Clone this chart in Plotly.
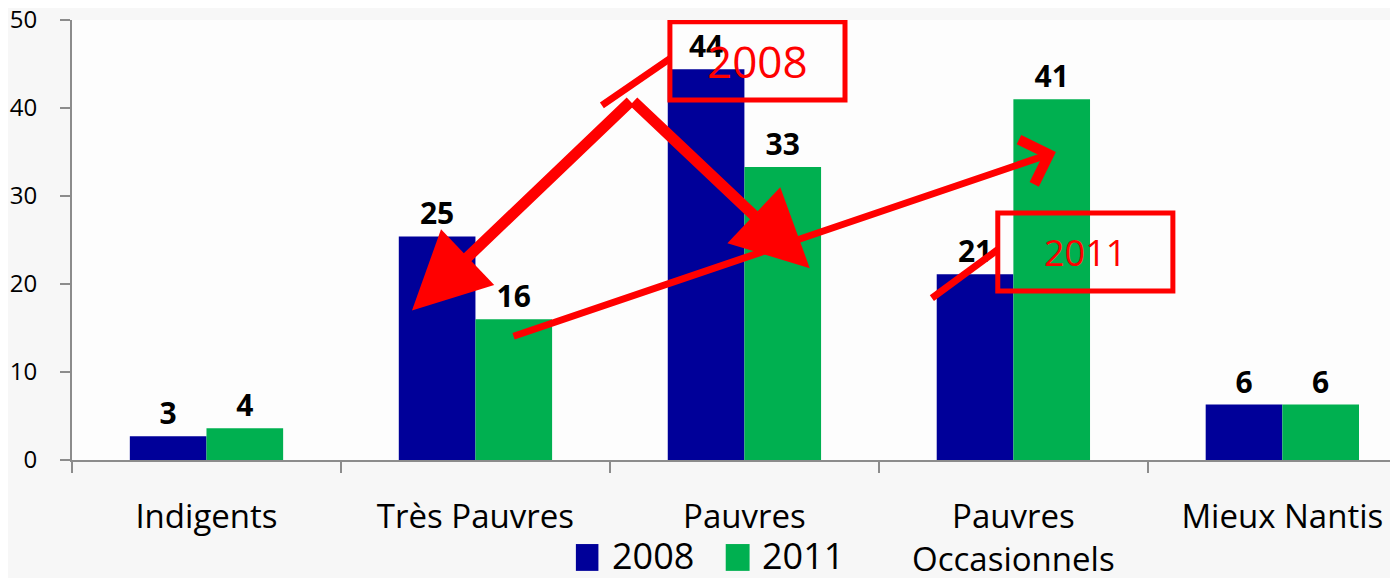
import plotly.graph_objects as go

# Data
categories = ['Indigents', 'Très Pauvres', 'Pauvres', 'Pauvres<br>Occasionnels', 'Mieux Nantis']
values2008 = [2.7, 25.4, 44.4, 21.1, 6.3]
values2011 = [3.6, 16.0, 33.3, 41.0, 6.3]
series_names = ['2008', '2011']
yticks = [0, 10, 20, 30, 40, 50]

blue = '#000099'
green = '#00B050'
red = '#FF0000'
axis_grey = '#8c8c8c'
font_family = 'Open Sans, Lato, sans-serif'

fig = go.Figure()
for name, vals, col in zip(series_names, [values2008, values2011], [blue, green]):
    fig.add_trace(go.Bar(
        x=categories, y=vals, name=name,
        marker=dict(color=col, line=dict(width=0)),
        texttemplate='%{y:.0f}', textposition='outside',
        textfont=dict(family=font_family, size=30, color='black', weight='bold'),
        cliponaxis=False, showlegend=False,
    ))

# page body has an 8px margin, so the figure is a bit smaller than the window
fig.update_layout(
    width=1390, height=570,
    margin=dict(l=64, r=0, t=12, b=118, autoexpand=False),
    barmode='group', bargap=0.43, bargroupgap=0,
    paper_bgcolor='#f7f7f7', plot_bgcolor='#fdfdfd',
    font=dict(family=font_family, color='black'),
    showlegend=False,
)
fig.update_xaxes(
    range=[-0.5, 4.43], showgrid=False, zeroline=False, automargin=False,
    showline=True, linecolor=axis_grey, linewidth=2,
    ticks='outside', tickson='boundaries', ticklen=11, tickcolor=axis_grey, tickwidth=2,
    tickfont=dict(size=33), ticklabelstandoff=26, ticklabeloverflow='allow',
)
fig.update_yaxes(
    range=[0, 50], tickvals=yticks, showgrid=False, zeroline=False, automargin=False,
    showline=True, linecolor=axis_grey, linewidth=2,
    ticks='outside', ticklen=10, tickcolor=axis_grey, tickwidth=2,
    tickfont=dict(size=24), ticklabelstandoff=18, ticklabeloverflow='allow',
)

# red call-out arrows (data coords: category index, value)
arrow_specs = [
    # head x, head y, tail x, tail y, width, head style, head size
    (0.764, 17.0, 1.582, 40.9, 11, 2, 1.4),
    (2.243, 21.8, 1.582, 40.9, 11, 2, 1.4),
    (3.158, 35.0, 1.136, 14.0, 7, 4, 1.3),
]
for hx, hy, tx, ty, w, head, size in arrow_specs:
    fig.add_annotation(
        x=hx, y=hy, ax=tx, ay=ty, xref='x', yref='y', axref='x', ayref='y',
        text='', showarrow=True, arrowhead=head, arrowsize=size,
        arrowwidth=w, arrowcolor=red,
    )

# connector lines to the boxes
fig.add_shape(type='line', xref='x', yref='y', x0=1.47, y0=40.3, x1=1.723, y1=45.6,
              line=dict(color=red, width=7))
fig.add_shape(type='line', xref='x', yref='y', x0=2.697, y0=18.4, x1=2.942, y1=23.9,
              line=dict(color=red, width=7))

# boxes with year labels
boxes = [('2008', 1.723, 2.374, 40.9, 49.8, 44), ('2011', 2.942, 3.593, 19.2, 28.07, 36)]
for label, x0, x1, y0, y1, fsize in boxes:
    fig.add_shape(type='rect', xref='x', yref='y', x0=x0, x1=x1, y0=y0, y1=y1,
                  line=dict(color=red, width=5))
    fig.add_annotation(x=(x0 + x1) / 2, y=(y0 + y1) / 2, xref='x', yref='y',
                       text=label, showarrow=False,
                       font=dict(size=fsize, color=red, family=font_family))

# legend drawn below the plot
legend_pos = [(0.380, 0.397, 0.406), (0.493, 0.511, 0.519)]
for name, col, (sx0, sx1, tx) in zip(series_names, [blue, green], legend_pos):
    fig.add_shape(type='rect', xref='paper', yref='paper', x0=sx0, x1=sx1,
                  y0=-0.252, y1=-0.191, fillcolor=col, line=dict(width=0))
    fig.add_annotation(x=tx, y=-0.217, xref='paper', yref='paper', text=name,
                       showarrow=False, xanchor='left', yanchor='middle',
                       font=dict(size=36, color='black', family=font_family))

fig.write_html("out.html")
